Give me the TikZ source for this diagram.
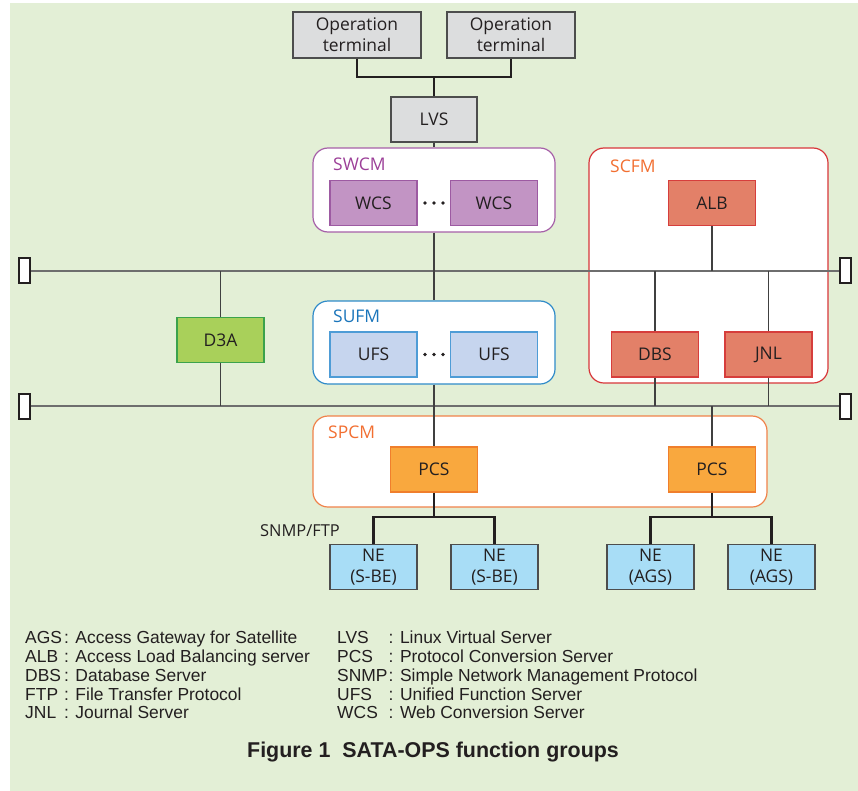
\documentclass[tikz,border=0pt]{standalone}
\usepackage{fontspec}
\setmainfont{Open Sans}
\newfontfamily\legendfont{Liberation Sans}
\usetikzlibrary{calc}
\definecolor{bg}{HTML}{E3EFD6}
\definecolor{txt}{HTML}{231F20}
\definecolor{grayfill}{HTML}{DCDDDE}
\definecolor{grayline}{HTML}{4D4D4D}
\definecolor{swcmline}{HTML}{A660A8}
\definecolor{swcmtext}{HTML}{9C3F98}
\definecolor{wcsfill}{HTML}{C294C4}
\definecolor{wcsline}{HTML}{9D5AA2}
\definecolor{scfmline}{HTML}{D8363A}
\definecolor{orangetext}{HTML}{F26F31}
\definecolor{albfill}{HTML}{E38068}
\definecolor{albline}{HTML}{D63E3C}
\definecolor{sufmline}{HTML}{2F8BC9}
\definecolor{sufmtext}{HTML}{1A75BB}
\definecolor{ufsfill}{HTML}{C6D5EE}
\definecolor{ufsline}{HTML}{4E9CD6}
\definecolor{spcmline}{HTML}{F0824A}
\definecolor{pcsfill}{HTML}{F9A83E}
\definecolor{pcsline}{HTML}{F07F2C}
\definecolor{nefill}{HTML}{A8DDF6}
\definecolor{d3afill}{HTML}{A9D05A}
\definecolor{d3aline}{HTML}{3BA24C}
\definecolor{linegray}{HTML}{404040}
\definecolor{busgray}{HTML}{6E6E6E}
\begin{document}
\begin{tikzpicture}[x=1bp,y=-1bp,
  base/.style={rectangle, inner sep=0pt, line width=1.2bp, text=txt, align=center,
    font=\fontsize{17.5}{21}\selectfont, minimum height=45bp, minimum width=87bp},
  graybox/.style={base, fill=grayfill, draw=grayline},
  wcsbox/.style={base, fill=wcsfill, draw=wcsline},
  albbox/.style={base, fill=albfill, draw=albline},
  ufsbox/.style={base, fill=ufsfill, draw=ufsline},
  pcsbox/.style={base, fill=pcsfill, draw=pcsline},
  nebox/.style={base, fill=nefill, draw=grayline},
  d3abox/.style={base, fill=d3afill, draw=d3aline},
  group/.style={rectangle, rounded corners=15bp, line width=1.2bp, fill=white, inner sep=0pt},
  glabel/.style={anchor=west, inner sep=0pt, font=\fontsize{17.5}{21}\selectfont},
  thinline/.style={line width=1.1bp, draw=linegray},
  thickline/.style={line width=2.7bp, draw=txt},
  busline/.style={line width=2bp, draw=busgray},
  term/.style={rectangle, draw=txt, fill=white, line width=2bp, minimum width=11bp, minimum height=25bp, inner sep=0pt},
  legend/.style={inner sep=0pt, anchor=base west, text=txt, font=\legendfont\fontsize{17.5}{20}\selectfont},
]
\useasboundingbox (0,0) rectangle (858,791);
\fill[bg] (10,3) rectangle (858,791);

% groups
\node[group, draw=swcmline, minimum width=242bp, minimum height=84bp] (swcm) at (434,190) {};
\node[group, draw=scfmline, minimum width=239bp, minimum height=235bp] (scfm) at (708.5,265.5) {};
\node[group, draw=sufmline, minimum width=242bp, minimum height=83bp] (sufm) at (434,342.5) {};
\node[group, draw=spcmline, minimum width=454bp, minimum height=91bp] (spcm) at (540,461.5) {};
\node[glabel, text=swcmtext] (swcml) at (333,164) {SWCM};
\node[glabel, text=orangetext] (scfml) at (610,166) {SCFM};
\node[glabel, text=sufmtext] (sufml) at (333,316) {SUFM};
\node[glabel, text=orangetext] (spcml) at (328,432) {SPCM};

% terminators
\node[term] (t1l) at (24,270.5) {};
\node[term] (t1r) at (845.5,270.5) {};
\node[term] (t2l) at (24,406) {};
\node[term] (t2r) at (845.5,406) {};

% boxes
\node[graybox, minimum width=128bp, minimum height=46bp] (op1) at (357,35) {Operation\\terminal};
\node[graybox, minimum width=128bp, minimum height=46bp] (op2) at (511,35) {Operation\\terminal};
\node[graybox, minimum width=86bp] (lvs) at (434,119.5) {LVS};
\node[wcsbox] (wcs1) at (373.5,203) {WCS};
\node[wcsbox] (wcs2) at (494,203) {WCS};
\node[albbox] (alb) at (712,203) {ALB};
\node[albbox] (dbs) at (655,354.5) {DBS};
\node[albbox] (jnl) at (768.5,354.5) {JNL};
\node[ufsbox] (ufs1) at (373.5,354.5) {UFS};
\node[ufsbox] (ufs2) at (494,354.5) {UFS};
\node[d3abox] (d3a) at (220.5,340) {D3A};
\node[pcsbox] (pcs1) at (434,469.5) {PCS};
\node[pcsbox] (pcs2) at (712,469.5) {PCS};
\node[nebox] (ne1) at (373.5,567) {NE\\(S-BE)};
\node[nebox] (ne2) at (494.5,567) {NE\\(S-BE)};
\node[nebox] (ne3) at (650.5,567) {NE\\(AGS)};
\node[nebox] (ne4) at (771.5,567) {NE\\(AGS)};

% dots
\foreach \yy in {203,354.5} {
  \foreach \xx in {425,434,443} \fill[txt] (\xx,\yy) circle (1.8bp);
}

% buses
\draw[busline] (t1l.east) -- (t1r.west);
\draw[busline] (t2l.east) -- (t2r.west);

% thin connectors
\draw[thinline] (lvs.south) -- (swcm.north);
\draw[thinline] (swcm.south) -- (sufm.north);
\draw[thinline] (sufm.south) -- (pcs1.north);
\draw[thinline] (alb.south) -- (alb.south |- t1l);
\draw[thinline] (dbs.north) -- (dbs.north |- t1l);
\draw[thinline] (jnl.north) -- (jnl.north |- t1l);
\draw[thinline] (dbs.south) -- (dbs.south |- t2l);
\draw[thinline] (jnl.south) -- (jnl.south |- t2l);
\draw[thinline] (pcs2.north) -- (pcs2.north |- t2l);
\draw[thinline] (d3a.north) -- (d3a.north |- t1l);
\draw[thinline] (d3a.south) -- (d3a.south |- t2l);

% thick connectors
\coordinate (j1) at (434,77);
\draw[thickline] (op1.south) |- (j1) -| (op2.south);
\draw[thickline] (lvs.north) -- (j1);
\coordinate (j2) at (434,517);
\draw[thickline] (ne1.north) |- (j2) -| (ne2.north);
\draw[thickline] (pcs1.south) -- (j2);
\coordinate (j3) at (712,517);
\draw[thickline] (ne3.north) |- (j3) -| (ne4.north);
\draw[thickline] (pcs2.south) -- (j3);

\node[inner sep=0pt, text=txt, font=\fontsize{16.5}{20}\selectfont] (snmp) at (300,531) {SNMP/FTP};

% legend
\foreach \a/\d [count=\i] in {AGS/Access Gateway for Satellite, ALB/Access Load Balancing server, DBS/Database Server, FTP/File Transfer Protocol, JNL/Journal Server} {
  \node[legend] (la\i) at (25,625+\i*18.75) {\a};
  \node[legend] (ld\i) at (64,625+\i*18.75) {: \d};
}
\foreach \a/\d [count=\i] in {LVS/Linux Virtual Server, PCS/Protocol Conversion Server, SNMP/Simple Network Management Protocol, UFS/Unified Function Server, WCS/Web Conversion Server} {
  \node[legend] (ra\i) at (337,625+\i*18.75) {\a};
  \node[legend] (rd\i) at (388.5,625+\i*18.75) {: \d};
}
\node[inner sep=0pt, text=txt, font=\legendfont\bfseries\fontsize{21.5}{24}\selectfont] (cap) at (433,752) {Figure 1\ \ SATA-OPS function groups};
\end{tikzpicture}
\end{document}
